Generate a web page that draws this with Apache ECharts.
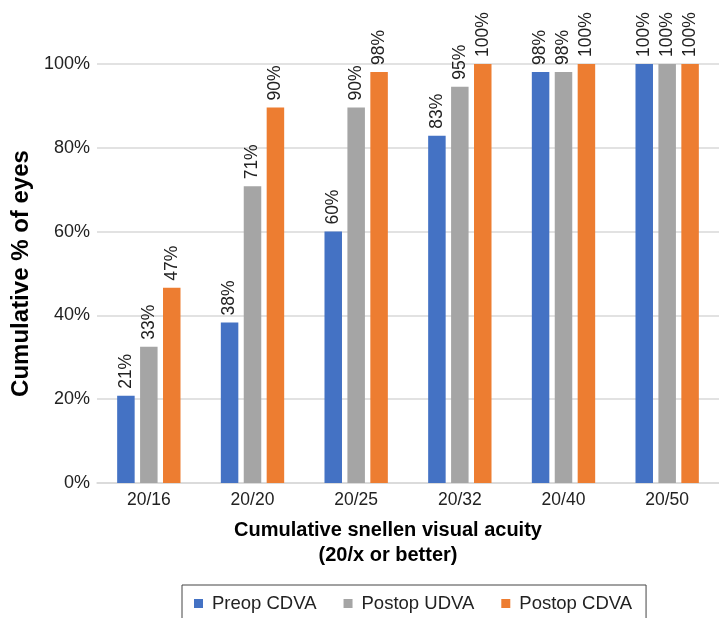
<!DOCTYPE html>
<html>
<head>
<meta charset="utf-8">
<script src="https://cdn.jsdelivr.net/npm/echarts@6/dist/echarts.min.js"></script>
<style>
html,body{margin:0;padding:0;background:#fff;}
#chart{width:719px;height:618px;}
</style>
</head>
<body>
<div id="chart"></div>
<script>
var categories = ['20/16', '20/20', '20/25', '20/32', '20/40', '20/50'];
var preopCDVA = [20.8, 38.3, 60.0, 82.9, 98.1, 100];
var postopUDVA = [32.5, 70.8, 89.6, 94.6, 98.1, 100];
var postopCDVA = [46.6, 89.6, 98.1, 100, 100, 100];
var yTicks = [0, 20, 40, 60, 80, 100];
var seriesNames = ['Preop CDVA', 'Postop UDVA', 'Postop CDVA'];
var colors = ['#4472C4', '#A5A5A5', '#ED7D31'];

var FONT = 'Liberation Sans, Arial, sans-serif';
var chart = echarts.init(document.getElementById('chart'), null, {renderer: 'canvas'});

function mkSeries(name, data, color) {
  return {
    name: name,
    type: 'bar',
    data: data,
    barWidth: 17.5,
    barGap: '31%',
    itemStyle: {color: color},
    label: {
      show: true,
      position: 'top',
      rotate: 90,
      align: 'left',
      verticalAlign: 'middle',
      distance: 7,
      fontFamily: FONT,
      fontSize: 17.5,
      color: '#222',
      formatter: function (p) { return Math.round(p.value) + '%'; }
    }
  };
}

chart.setOption({
  animation: false,
  textStyle: {fontFamily: FONT},
  grid: {left: 97, right: -11, top: 64, bottom: 135, containLabel: false},
  xAxis: {
    type: 'category',
    data: categories,
    axisLine: {show: true, lineStyle: {color: '#d9d9d9', width: 1.5}},
    axisTick: {show: false},
    axisLabel: {fontFamily: FONT, fontSize: 17.5, color: '#222', margin: 8}
  },
  yAxis: {
    type: 'value',
    min: yTicks[0],
    max: yTicks[yTicks.length - 1],
    interval: 20,
    name: 'Cumulative % of eyes',
    nameLocation: 'middle',
    nameRotate: 90,
    nameGap: 63,
    nameTextStyle: {fontFamily: FONT, fontSize: 24, fontWeight: 'bold', color: '#000'},
    axisLine: {show: false},
    axisTick: {show: false},
    splitLine: {lineStyle: {color: '#d9d9d9', width: 1.5}},
    axisLabel: {fontFamily: FONT, fontSize: 18, color: '#222', margin: 7,
      formatter: function (v) { return v + '%'; }}
  },
  title: {
    text: 'Cumulative snellen visual acuity\n(20/x or better)',
    left: 383,
    top: 513,
    textAlign: 'center',
    textStyle: {fontFamily: FONT, fontSize: 20, fontWeight: 'bold', color: '#000', lineHeight: 25}
  },
  legend: {
    data: seriesNames,
    left: 182,
    top: 585,
    padding: [9, 14, 20, 12],
    borderColor: '#444',
    borderWidth: 1,
    itemWidth: 9,
    itemHeight: 9,
    itemGap: 27,
    icon: 'rect',
    textStyle: {fontFamily: FONT, fontSize: 18.5, color: '#222', padding: [0, 0, 0, 4]}
  },
  series: [
    mkSeries(seriesNames[0], preopCDVA, colors[0]),
    mkSeries(seriesNames[1], postopUDVA, colors[1]),
    mkSeries(seriesNames[2], postopCDVA, colors[2])
  ]
});
</script>
</body>
</html>
